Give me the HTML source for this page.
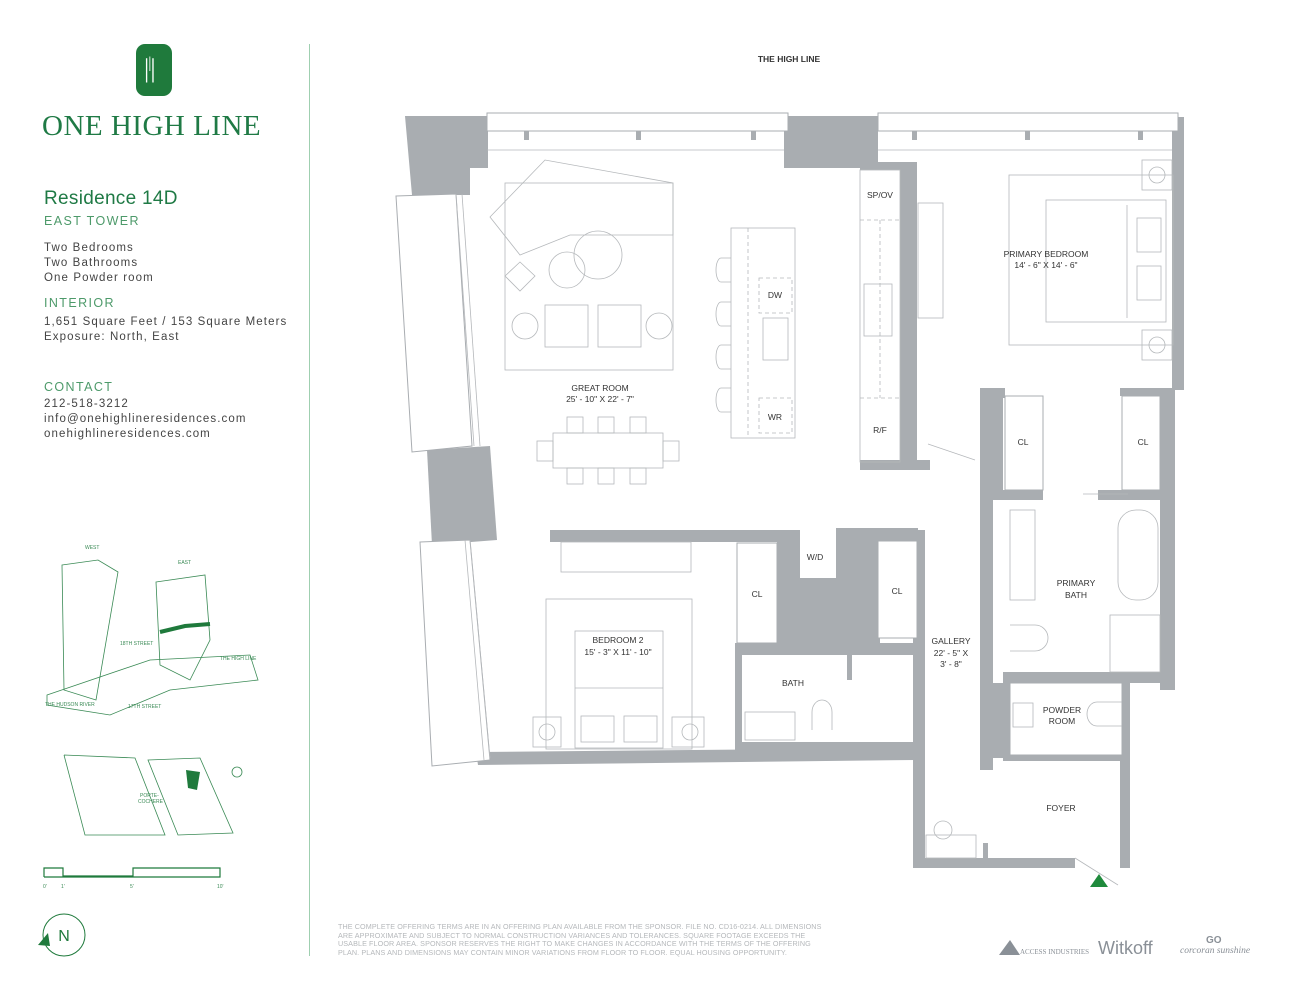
<!DOCTYPE html>
<html><head><meta charset="utf-8">
<style>
body{margin:0;background:#fff;width:1294px;height:1000px;overflow:hidden;position:relative;font-family:"Liberation Sans",sans-serif}
.t{position:absolute;white-space:nowrap}
.g{color:#1f7a45}
.b{color:#444;font-size:11.5px;letter-spacing:1.1px;line-height:15px}
.h{color:#4d9a6a;font-size:12.5px;letter-spacing:1.4px}
</style></head><body>
<div style="position:absolute;left:309px;top:44px;width:1px;height:912px;background:#9fcfb0"></div>
<div style="position:absolute;left:136px;top:44px;width:36px;height:52px;background:#1f7a3c;border-radius:9px"></div>
<div class="t" style="left:144px;top:54px;color:#fff;font-family:'Liberation Serif',serif;font-size:26px;letter-spacing:-1px">|<sup style="font-size:16px">|</sup>|</div>
<div class="t g" style="left:42px;top:110px;font-family:'Liberation Serif',serif;font-size:29px;letter-spacing:0.5px">ONE HIGH LINE</div>
<div class="t g" style="left:44px;top:188px;font-size:19px;letter-spacing:0.3px">Residence 14D</div>
<div class="t h" style="left:44px;top:214px">EAST TOWER</div>
<div class="t b" style="left:44px;top:241px">Two Bedrooms<br>Two Bathrooms<br>One Powder room</div>
<div class="t h" style="left:44px;top:296px">INTERIOR</div>
<div class="t b" style="left:44px;top:315px">1,651 Square Feet / 153 Square Meters<br>Exposure: North, East</div>
<div class="t h" style="left:44px;top:380px">CONTACT</div>
<div class="t b" style="left:44px;top:397px">212-518-3212<br>info@onehighlineresidences.com<br>onehighlineresidences.com</div>

<div class="t" style="left:338px;top:923px;font-size:7.2px;line-height:8.5px;color:#b5b8bb;letter-spacing:0.1px">THE COMPLETE OFFERING TERMS ARE IN AN OFFERING PLAN AVAILABLE FROM THE SPONSOR. FILE NO. CD16-0214. ALL DIMENSIONS<br>ARE APPROXIMATE AND SUBJECT TO NORMAL CONSTRUCTION VARIANCES AND TOLERANCES. SQUARE FOOTAGE EXCEEDS THE<br>USABLE FLOOR AREA. SPONSOR RESERVES THE RIGHT TO MAKE CHANGES IN ACCORDANCE WITH THE TERMS OF THE OFFERING<br>PLAN. PLANS AND DIMENSIONS MAY CONTAIN MINOR VARIATIONS FROM FLOOR TO FLOOR. EQUAL HOUSING OPPORTUNITY.</div>
<div class="t" style="left:1098px;top:938px;font-size:18px;color:#8a9097">Witkoff</div>
<div class="t" style="left:1020px;top:948px;font-size:7px;color:#8a9097;font-family:'Liberation Serif',serif">ACCESS INDUSTRIES</div>
<div class="t" style="left:1180px;top:946px;font-size:9.5px;color:#8a9097;font-family:'Liberation Serif',serif;font-style:italic">corcoran sunshine</div>
<div class="t" style="left:1206px;top:935px;font-size:10px;color:#8a9097;font-weight:bold">GO</div>

<svg width="1294" height="1000" style="position:absolute;left:0;top:0" xmlns="http://www.w3.org/2000/svg">
<polygon points="999,955 1010,940 1020,955" fill="#8a9097"/>
<g fill="#a9adb1">
<polygon points="405,116 488,116 488,168 470,168 470,195 412,195"/>
<polygon points="784,116 878,116 878,162 917,162 917,462 900,462 900,170 860,170 860,168 784,168"/>
<rect x="860" y="460" width="70" height="10"/>
<polygon points="427,450 490,446 497,540 432,545"/>
<polygon points="1172,117 1184,117 1184,390 1172,390"/>
<polygon points="476,752 915,748 915,760 478,765"/>
<rect x="550" y="530" width="250" height="12"/>
<rect x="836" y="528" width="82" height="14"/>
<rect x="777" y="542" width="103" height="113"/>
<rect x="800" y="530" width="36" height="48" fill="#fff"/>
<rect x="735" y="643" width="7" height="107"/>
<rect x="742" y="742" width="171" height="8"/>
<rect x="735" y="643" width="182" height="12"/>
<rect x="847" y="655" width="5" height="25"/>
<rect x="913" y="530" width="12" height="338"/>
<rect x="913" y="858" width="162" height="10"/>
<rect x="1120" y="740" width="10" height="128"/>
<rect x="980" y="388" width="25" height="10"/>
<rect x="980" y="388" width="13" height="382"/>
<rect x="983" y="388" width="20" height="102"/>
<rect x="983" y="490" width="60" height="10"/>
<rect x="1098" y="490" width="62" height="10"/>
<rect x="1120" y="388" width="55" height="8"/>
<rect x="1160" y="388" width="15" height="302"/>
<rect x="1003" y="672" width="172" height="11"/>
<rect x="993" y="683" width="17" height="75"/>
<rect x="1122" y="683" width="8" height="60"/>
<rect x="1003" y="755" width="127" height="6"/>
<rect x="983" y="843" width="5" height="20"/>
</g>
<g fill="#fff" stroke="#a9adb1" stroke-width="1">
<rect x="487" y="113" width="301" height="18"/>
<rect x="878" y="113" width="300" height="18"/>
<polygon points="396,196 456,194 472,446 412,452"/>
<polygon points="420,542 470,540 490,760 432,766"/>
<rect x="1005" y="396" width="38" height="94"/>
<rect x="1122" y="396" width="38" height="94"/>
<rect x="737" y="543" width="40" height="100"/>
<rect x="878" y="541" width="39" height="97"/>
<rect x="1010" y="683" width="112" height="72"/>
</g>
<g fill="none" stroke="#b5b8bb" stroke-width="0.8">
<line x1="487" y1="150" x2="784" y2="150"/><line x1="878" y1="150" x2="1172" y2="150"/>
<line x1="456" y1="194" x2="474" y2="446"/><line x1="462" y1="194" x2="480" y2="446"/>
<line x1="465" y1="540" x2="484" y2="760"/><line x1="470" y1="540" x2="490" y2="758"/>
<rect x="505" y="183" width="168" height="187"/>
<polygon points="490,217 545,160 673,183 673,235 570,235 520,255"/>
<circle cx="598" cy="255" r="24"/><circle cx="567" cy="270" r="18"/>
<polygon points="505,276 520,262 535,276 520,291"/>
<rect x="545" y="305" width="43" height="42"/><rect x="598" y="305" width="43" height="42"/>
<circle cx="525" cy="326" r="13"/><circle cx="659" cy="326" r="13"/>
<rect x="553" y="433" width="110" height="35"/>
<rect x="567" y="417" width="16" height="16"/><rect x="598" y="417" width="16" height="16"/><rect x="630" y="417" width="16" height="16"/>
<rect x="567" y="468" width="16" height="16"/><rect x="598" y="468" width="16" height="16"/><rect x="630" y="468" width="16" height="16"/>
<rect x="537" y="441" width="16" height="20"/><rect x="663" y="441" width="16" height="20"/>
<rect x="731" y="228" width="64" height="210"/>
<line x1="748" y1="228" x2="748" y2="438" stroke-dasharray="4,3"/>
<rect x="759" y="278" width="33" height="35" stroke-dasharray="4,3"/>
<rect x="759" y="398" width="33" height="35" stroke-dasharray="4,3"/>
<rect x="763" y="318" width="25" height="42"/>
<path d="M731 258 h-10 a5 12 0 0 0 0 24 h10 M731 302 h-10 a5 12 0 0 0 0 24 h10 M731 345 h-10 a5 12 0 0 0 0 24 h10 M731 388 h-10 a5 12 0 0 0 0 24 h10"/>
<rect x="860" y="170" width="40" height="292"/>
<line x1="860" y1="220" x2="900" y2="220" stroke-dasharray="4,3"/><line x1="860" y1="398" x2="900" y2="398" stroke-dasharray="4,3"/>
<line x1="880" y1="220" x2="880" y2="398" stroke-dasharray="4,3"/>
<rect x="864" y="284" width="28" height="52"/>
<rect x="918" y="203" width="25" height="115"/>
<rect x="1009" y="175" width="164" height="170"/>
<rect x="1046" y="200" width="120" height="122"/><line x1="1127" y1="205" x2="1127" y2="318"/>
<rect x="1137" y="218" width="24" height="34"/><rect x="1137" y="266" width="24" height="34"/>
<rect x="1142" y="160" width="30" height="30"/><rect x="1142" y="330" width="30" height="30"/>
<circle cx="1157" cy="175" r="8"/><circle cx="1157" cy="345" r="8"/>
<rect x="546" y="599" width="146" height="150"/>
<rect x="575" y="631" width="88" height="117"/><line x1="575" y1="688" x2="663" y2="688"/>
<rect x="581" y="716" width="33" height="26"/><rect x="624" y="716" width="33" height="26"/>
<rect x="533" y="717" width="28" height="30"/><rect x="672" y="717" width="32" height="30"/>
<circle cx="547" cy="732" r="8"/><circle cx="690" cy="732" r="8"/>
<rect x="561" y="542" width="130" height="30"/>
<rect x="745" y="712" width="50" height="28"/><path d="M812 730 v-18 a10 12 0 0 1 20 0 v18"/>
<rect x="1118" y="510" width="40" height="90" rx="18"/>
<rect x="1110" y="615" width="50" height="57"/>
<path d="M1010 625 h25 a12 12 0 0 1 0 26 h-25"/>
<path d="M1122 702 h-25 a10 12 0 0 0 0 24 h25"/>
<rect x="1010" y="510" width="25" height="90"/>
<rect x="1013" y="703" width="20" height="24"/>
<rect x="926" y="835" width="50" height="23"/><circle cx="943" cy="830" r="9"/>
<line x1="1075" y1="858" x2="1118" y2="885"/><line x1="928" y1="444" x2="975" y2="460"/>
<line x1="1083" y1="494" x2="1128" y2="494"/>
</g>
<g fill="#a9adb1"><rect x="524" y="131" width="5" height="9"/><rect x="636" y="131" width="5" height="9"/><rect x="751" y="131" width="5" height="9"/><rect x="912" y="131" width="5" height="9"/><rect x="1025" y="131" width="5" height="9"/><rect x="1138" y="131" width="5" height="9"/></g>
<polygon points="1090,887 1099,874 1108,887" fill="#1f8a3c"/>
<g font-family="Liberation Sans,sans-serif" font-size="8.5" fill="#333" text-anchor="middle">
<text x="789" y="62" font-weight="bold">THE HIGH LINE</text>
<text x="880" y="198">SP/OV</text><text x="880" y="433">R/F</text>
<text x="775" y="298">DW</text><text x="775" y="420">WR</text>
<text x="600" y="391">GREAT ROOM</text><text x="600" y="402">25' - 10" X 22' - 7"</text>
<text x="1046" y="257">PRIMARY BEDROOM</text><text x="1046" y="268">14' - 6" X 14' - 6"</text>
<text x="1023" y="445">CL</text><text x="1143" y="445">CL</text>
<text x="815" y="560">W/D</text><text x="757" y="597">CL</text><text x="897" y="594">CL</text>
<text x="618" y="643">BEDROOM 2</text><text x="618" y="655">15' - 3" X 11' - 10"</text>
<text x="793" y="686">BATH</text>
<text x="951" y="644">GALLERY</text><text x="951" y="656">22' - 5" X</text><text x="951" y="667">3' - 8"</text>
<text x="1076" y="586">PRIMARY</text><text x="1076" y="598">BATH</text>
<text x="1062" y="713">POWDER</text><text x="1062" y="724">ROOM</text>
<text x="1061" y="811">FOYER</text>
</g>
<g fill="none" stroke="#3a8a55" stroke-width="0.8">
<polygon points="62,565 98,560 118,572 96,700 64,690"/>
<polygon points="156,582 205,575 210,640 190,680 160,665"/>
<polygon points="47,695 150,660 250,655 258,680 170,690 110,715 47,705"/>
<polyline points="64,755 135,758 165,835 85,835 64,755"/>
<polygon points="148,760 200,758 233,833 178,835"/>
<circle cx="237" cy="772" r="5"/>
</g>
<polyline points="160,632 185,626 210,624" fill="none" stroke="#1f7a3c" stroke-width="4"/>
<polygon points="186,770 200,772 197,790 188,788" fill="#1f7a3c"/>
<g fill="none" stroke="#1f7a3c" stroke-width="1.2">
<polyline points="44,877 44,868 63,868 63,876 133,876 133,868 220,868 220,877 44,877"/>
<circle cx="64" cy="935" r="21" stroke-width="1"/>
</g>
<polygon points="38,945 48,933 50,946" fill="#1f7a3c"/>
<g font-family="Liberation Sans,sans-serif" fill="#3a8a55" font-size="5">
<text x="85" y="549">WEST</text><text x="178" y="564">EAST</text>
<text x="120" y="645">18TH STREET</text><text x="220" y="660">THE HIGH LINE</text>
<text x="45" y="706">THE HUDSON RIVER</text><text x="128" y="708">17TH STREET</text>
<text x="140" y="797">PORTE-</text><text x="138" y="803">COCHERE</text>
<text x="43" y="888">0'</text><text x="61" y="888">1'</text><text x="130" y="888">5'</text><text x="217" y="888">10'</text>
</g>
<text x="64" y="941" font-family="Liberation Sans,sans-serif" font-size="16" fill="#1f7a3c" text-anchor="middle">N</text>
</svg>
</body></html>
